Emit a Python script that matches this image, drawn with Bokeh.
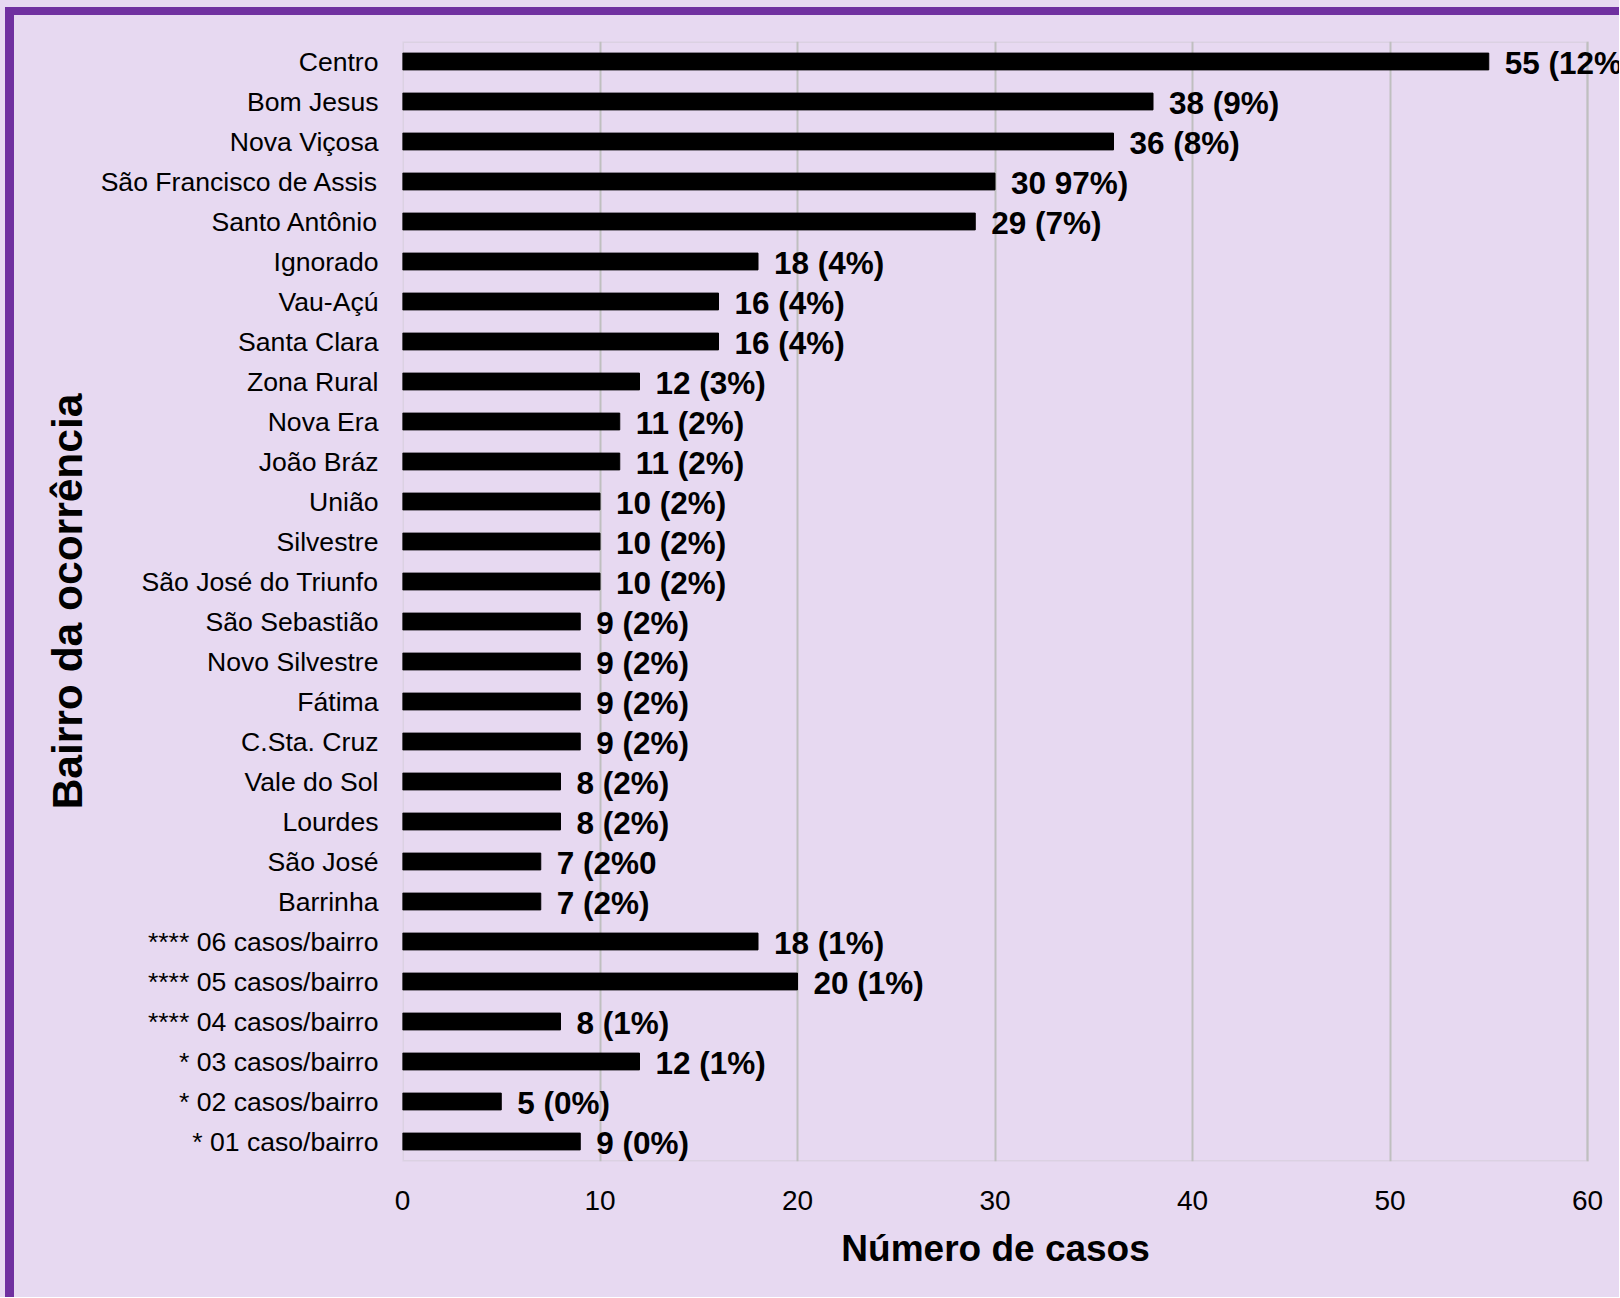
from bokeh.plotting import figure
from bokeh.models import ColumnDataSource, FactorRange, Range1d, LabelSet, FixedTicker, BoxAnnotation
from bokeh.layouts import column
from bokeh.core.properties import value
from bokeh.embed import file_html
from bokeh.resources import INLINE

bairros = [
    "Centro", "Bom Jesus", "Nova Viçosa", "São Francisco de Assis", "Santo Antônio",
    "Ignorado", "Vau-Açú", "Santa Clara", "Zona Rural", "Nova Era", "João Bráz",
    "União", "Silvestre", "São José do Triunfo", "São Sebastião", "Novo Silvestre",
    "Fátima", "C.Sta. Cruz", "Vale do Sol", "Lourdes", "São José", "Barrinha",
    "**** 06 casos/bairro", "**** 05 casos/bairro", "**** 04 casos/bairro",
    "* 03 casos/bairro", "* 02 casos/bairro", "* 01 caso/bairro",
]
casos = [55, 38, 36, 30, 29, 18, 16, 16, 12, 11, 11, 10, 10, 10, 9, 9, 9, 9, 8, 8, 7, 7,
         18, 20, 8, 12, 5, 9]
rotulos = [
    "55 (12%)", "38 (9%)", "36 (8%)", "30 97%)", "29 (7%)", "18 (4%)", "16 (4%)",
    "16 (4%)", "12 (3%)", "11 (2%)", "11 (2%)", "10 (2%)", "10 (2%)", "10 (2%)",
    "9 (2%)", "9 (2%)", "9 (2%)", "9 (2%)", "8 (2%)", "8 (2%)", "7 (2%0", "7 (2%)",
    "18 (1%)", "20 (1%)", "8 (1%)", "12 (1%)", "5 (0%)", "9 (0%)",
]
x_ticks = [0, 10, 20, 30, 40, 50, 60]

BG = "#E7D9F1"
PURPLE = "#7030A0"
GRID = "#BFBFBF"
FONT = "Liberation Sans"

src = ColumnDataSource(dict(bairro=bairros, casos=casos, rotulo=rotulos))

p = figure(
    width=1605, height=1282,
    y_range=FactorRange(factors=list(reversed(bairros)), range_padding=0),
    x_range=Range1d(0, 61.62),
    output_backend="svg", toolbar_location=None,
    min_border_left=388, min_border_top=26, min_border_right=0, min_border_bottom=136,
)
p.background_fill_color = BG
p.border_fill_color = BG
p.outline_line_color = None

# plot-area frame (0..60)
p.add_layout(BoxAnnotation(left=0, right=60, fill_alpha=0, line_color=GRID, line_width=3,
                           level="underlay"))

p.hbar(y="bairro", right="casos", height=0.42, left=0, source=src, color="black")

labels = LabelSet(x="casos", y="bairro", text="rotulo", source=src, x_offset=16, y_offset=-1,
                  text_baseline="middle", text_font=value(FONT), text_font_style="bold",
                  text_font_size="31.5px", text_color="black")
p.add_layout(labels)

p.xgrid.ticker = FixedTicker(ticks=x_ticks)
p.xaxis.ticker = FixedTicker(ticks=x_ticks)
p.xgrid.grid_line_color = GRID
p.xgrid.grid_line_width = 2
p.ygrid.grid_line_color = None

for ax in (p.xaxis, p.yaxis):
    ax.axis_line_color = None
    ax.major_tick_line_color = None
    ax.minor_tick_line_color = None
    ax.major_tick_out = 0
    ax.major_tick_in = 0
    ax.major_label_text_font = FONT
    ax.major_label_text_color = "black"
    ax.axis_label_text_font = FONT
    ax.axis_label_text_font_style = "bold"
    ax.axis_label_text_color = "black"

p.xaxis.major_label_text_font_size = "28px"
p.xaxis.major_label_standoff = 29
# trailing no-break spaces centre the title over the 0-60 span
p.xaxis.axis_label = "Número de casos" + "\u00a0" * 3
p.xaxis.axis_label_text_font_size = "37px"
p.xaxis.axis_label_standoff = 15

p.yaxis.major_label_text_font_size = "26.6px"
p.yaxis.major_label_standoff = 24
p.yaxis.axis_label = "Bairro da ocorrência"
p.yaxis.axis_label_text_font_size = "42.5px"
p.yaxis.axis_label_standoff = 7

inner = column(p, styles={"border-top": f"8px solid {PURPLE}",
                          "border-left": f"9px solid {PURPLE}",
                          "background-color": BG})
layout = column(inner, styles={"border-top": f"7px solid {BG}",
                               "border-left": f"5px solid {BG}",
                               "background-color": BG})

open("out.html", "w").write(file_html(layout, INLINE))
